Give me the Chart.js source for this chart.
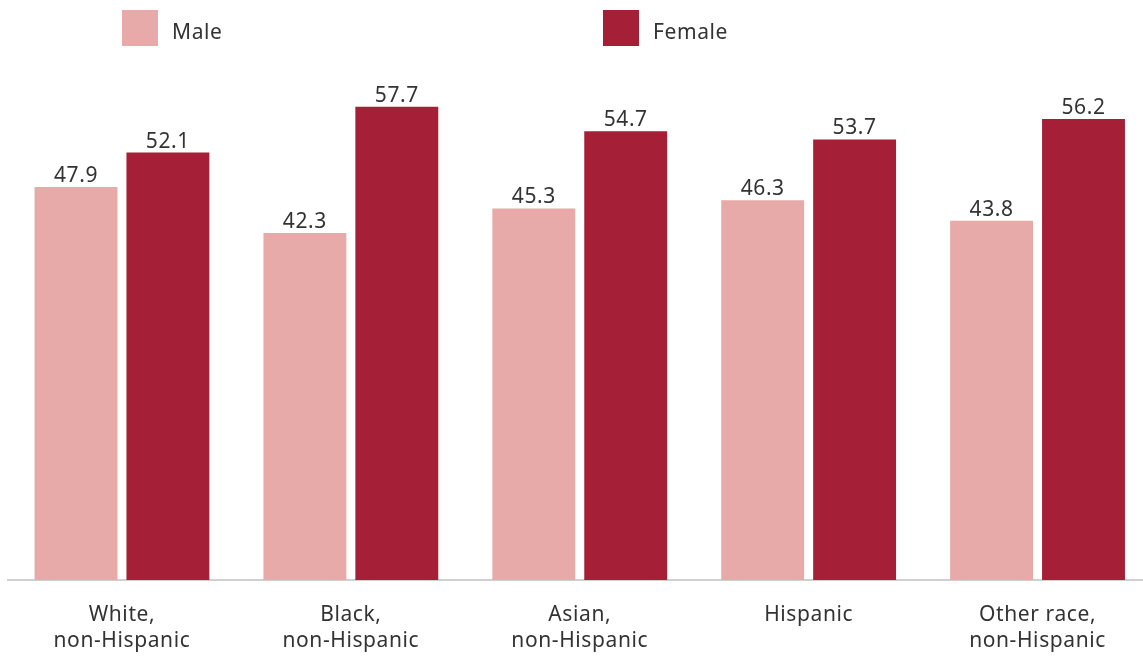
<!DOCTYPE html>
<html>
<head>
<meta charset="utf-8">
<script src="https://cdn.jsdelivr.net/npm/chart.js@4.4.1/dist/chart.umd.min.js"></script>
<style>
  html, body { margin: 0; padding: 0; background: #fff; overflow: hidden; width: 1143px; height: 656px; }
  #wrap { position: relative; width: 1152px; height: 656px; }
  #chart { position: absolute; left: 0; top: 0; }
  .legend { position: absolute; top: 10px; height: 36px; display: flex; align-items: center; font-family: "Noto Sans", sans-serif; font-size: 21px; letter-spacing: 0.6px; color: #333; }
  .legend .sw { width: 36px; height: 36px; margin-right: 14px; }
  .legend span { padding-top: 5px; }
</style>
</head>
<body>
<div id="wrap">
  <canvas id="chart" width="1152" height="656"></canvas>
  <div class="legend" style="left:122px"><div class="sw" style="background:#e8a9a9"></div><span>Male</span></div>
  <div class="legend" style="left:603px"><div class="sw" style="background:#a51f36"></div><span>Female</span></div>
</div>
<script>
const categories = [
  ["White,", "non-Hispanic"],
  ["Black,", "non-Hispanic"],
  ["Asian,", "non-Hispanic"],
  ["Hispanic"],
  ["Other race,", "non-Hispanic"]
];
const maleValues = [47.9, 42.3, 45.3, 46.3, 43.8];
const femaleValues = [52.1, 57.7, 54.7, 53.7, 56.2];

const FONT = "Noto Sans";
const SPACING = "0.6px";

// Slightly open tracking for all canvas text
const tracking = {
  id: "tracking",
  beforeLayout(chart) { chart.ctx.letterSpacing = SPACING; },
  beforeDraw(chart) { chart.ctx.letterSpacing = SPACING; }
};

// Writes each bar's value just above its top edge
const valueLabels = {
  id: "valueLabels",
  afterDatasetsDraw(chart) {
    const ctx = chart.ctx;
    ctx.save();
    ctx.letterSpacing = SPACING;
    ctx.font = "21px '" + FONT + "'";
    ctx.fillStyle = "#333";
    ctx.textAlign = "center";
    ctx.textBaseline = "alphabetic";
    chart.data.datasets.forEach((ds, i) => {
      chart.getDatasetMeta(i).data.forEach((bar, j) => {
        ctx.fillText(ds.data[j].toFixed(1), bar.x, bar.y - 5);
      });
    });
    ctx.restore();
  }
};

new Chart(document.getElementById("chart"), {
  type: "bar",
  data: {
    labels: categories,
    datasets: [
      { label: "Male", data: maleValues, backgroundColor: "#e8a9a9" },
      { label: "Female", data: femaleValues, backgroundColor: "#a51f36" }
    ]
  },
  options: {
    responsive: false,
    animation: false,
    layout: { padding: { top: 55, left: 7.5, right: 0, bottom: 0 } },
    datasets: { bar: { categoryPercentage: 0.803, barPercentage: 0.902 } },
    plugins: { legend: { display: false }, tooltip: { enabled: false } },
    scales: {
      x: {
        grid: { display: false },
        border: { display: true, color: "#d0d0d0", width: 2 },
        ticks: { color: "#333", font: { family: FONT, size: 21, lineHeight: 1.238 }, padding: 14, maxRotation: 0, autoSkip: false },
        afterFit(scale) { scale.height = 76; }
      },
      y: {
        display: false,
        min: 0,
        max: 64
      }
    }
  },
  plugins: [tracking, valueLabels]
});
</script>
</body>
</html>
